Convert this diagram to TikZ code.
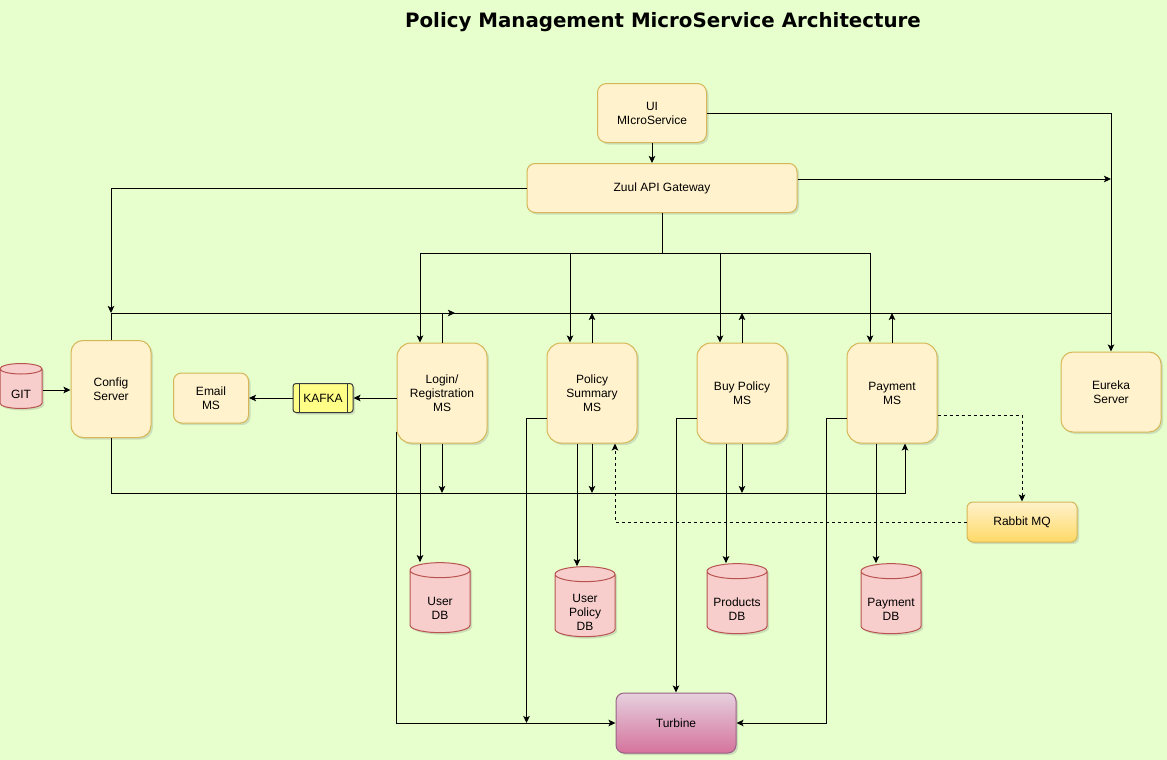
\documentclass[tikz,border=0pt]{standalone}
\usepackage{fontspec}
\setmainfont{Liberation Sans}
\newfontfamily\titlefont{DejaVu Sans}
\usetikzlibrary{shapes.geometric,shadows,arrows.meta}
\definecolor{bggreen}{HTML}{E6FFCC}
\definecolor{boxfill}{HTML}{FFF2CC}
\definecolor{boxline}{HTML}{D6B656}
\definecolor{dbfill}{HTML}{F8CECC}
\definecolor{dbline}{HTML}{B85450}
\definecolor{kafkafill}{HTML}{FFFF88}
\definecolor{kafkaline}{HTML}{36393D}
\definecolor{turbtop}{HTML}{E6D0DE}
\definecolor{turbbot}{HTML}{D5739D}
\definecolor{turbline}{HTML}{996185}
\definecolor{rabbot}{HTML}{FFD966}
\tikzset{box/.style={draw=boxline, fill=boxfill, line width=1pt, align=center,
    font=\fontsize{12}{14}\selectfont, inner sep=2pt,
    drop shadow={opacity=0.25, shadow xshift=2pt, shadow yshift=-2pt}}}
\tikzset{msbox/.style={box, rounded corners=14pt, minimum width=90pt, minimum height=100pt}}
\tikzset{dbase/.style={cylinder, shape border rotate=90, aspect=0.25, draw=dbline, fill=dbfill,
    line width=1pt, inner sep=2pt, text width=56pt, minimum width=60pt, minimum height=70pt,
    drop shadow={opacity=0.25, shadow xshift=2pt, shadow yshift=-2pt}}}
\tikzset{dbtext/.style={align=center, font=\fontsize{12}{14}\selectfont, yshift=-5pt}}
\tikzset{line/.style={line width=1pt}}
\tikzset{arr/.style={line width=1pt, -{Stealth[length=7pt, width=6.5pt, inset=1.5pt]}}}
\tikzset{dashline/.style={dash pattern=on 3pt off 3pt}}

\begin{document}
\begin{tikzpicture}[x=1pt, y=-1pt]
    \useasboundingbox (0,0) rectangle (1167,760);
    \fill[bggreen] (0,0) rectangle (1167,760);
    \node (title) at (663,22) {\titlefont\bfseries\fontsize{19.8}{22}\selectfont Policy Management MicroService Architecture};

    % gateway and registry
    \node[box, rounded corners=9pt, minimum width=109pt, minimum height=59pt] (ui) at (652,113) {UI\\MIcroService};
    \node[box, rounded corners=8pt, minimum width=270pt, minimum height=49pt] (zuul) at (662,188) {Zuul API Gateway};
    \node[box, rounded corners=12pt, minimum width=100pt, minimum height=80pt] (eureka) at (1111,392) {Eureka\\Server};
    \node[box, rounded corners=12pt, minimum width=80pt, minimum height=97pt] (config) at (111,389) {Config\\Server};
    \node[dbase, text width=38pt, minimum width=42pt, minimum height=45pt, label={[dbtext, yshift=1pt]center:GIT}] (git) at (21,390) {};
    \node[box, rounded corners=8pt, minimum width=75pt, minimum height=50pt] (email) at (211,398) {Email\\MS};
    \node[box, draw=kafkaline, fill=kafkafill, rounded corners=3pt, minimum width=60pt, minimum height=29pt,
        path picture={\draw[kafkaline, line width=1pt] ([xshift=6pt]path picture bounding box.north west) -- ([xshift=6pt]path picture bounding box.south west)
            ([xshift=-6pt]path picture bounding box.north east) -- ([xshift=-6pt]path picture bounding box.south east);}] (kafka) at (323,398) {KAFKA};

    % micro services
    \node[msbox] (login) at (442,393) {Login/\\Registration\\MS};
    \node[msbox] (policy) at (592,393) {Policy\\Summary\\MS};
    \node[msbox] (buy) at (742,393) {Buy Policy\\MS};
    \node[msbox] (payment) at (892,393) {Payment\\MS};
    \node[box, top color=boxfill, bottom color=rabbot, rounded corners=6pt, minimum width=110pt, minimum height=40pt] (rabbit) at (1022,522) {Rabbit MQ};
    \node[box, draw=turbline, top color=turbtop, bottom color=turbbot, rounded corners=8pt, minimum width=120pt, minimum height=60pt] (turbine) at (676,723) {Turbine};

    % databases
    \node[dbase, label={[dbtext]center:User\\DB}] (userdb) at (440,603) {};
    \node[dbase, label={[dbtext]center:User\\Policy\\DB}] (updb) at (585,607) {};
    \node[dbase, label={[dbtext]center:Products\\DB}] (proddb) at (737,604) {};
    \node[dbase, label={[dbtext]center:Payment\\DB}] (paydb) at (891,604) {};

    \coordinate (fan) at (0,253);
    \coordinate (topbus) at (0,313);
    \coordinate (botbus) at (0,493);
    \coordinate (zout) at ([yshift=9pt]zuul.east);
    \coordinate (fanl) at ([xshift=-22pt]login.north);
    \coordinate (fanr) at ([xshift=-22pt]payment.north);
    \coordinate (payin) at ([xshift=13pt]payment.south);

    \draw[arr] (ui.south) -- (ui.south |- zuul.north);
    \draw[arr] (ui.east) -| (eureka.north);
    \draw[arr] (zout) -- (zout -| eureka.north);
    \draw[arr] (zuul.west) -| (config.north |- topbus);
    \draw[line] (config.north) |- (eureka.north |- topbus);
    \draw[arr] (login.north) -- (login.north |- topbus) -- ++(13,0);
    \foreach \ms in {policy,buy,payment}
        \draw[arr] (\ms.north) -- (\ms.north |- topbus);

    \draw[line] (zuul.south) -- (zuul.south |- fan);
    \draw[line] (fanl |- fan) -- (fanr |- fan);
    \foreach \ms in {login,policy,buy,payment}
        \draw[arr] ([xshift=-22pt]\ms.north) coordinate (msin) ++(0,-90) -- (msin);

    \foreach \ms in {login,policy,buy}
        \draw[arr] (\ms.south) -- (\ms.south |- botbus);
    \draw[arr] (config.south) |- (payin |- botbus) -- (payin);

    \foreach \ms/\db/\dx in {login/userdb/-22, policy/updb/-15, buy/proddb/-16, payment/paydb/-16}
        \draw[arr] ([xshift=\dx pt]\ms.south) coordinate (msout) -- (msout |- \db.north);

    \draw[arr] ([yshift=12pt]login.south west) |- (turbine.west);
    \draw[arr] ([yshift=-25pt]policy.west) -- ++(-20,0) coordinate (pbend) -- (pbend |- turbine.west);
    \draw[arr] ([yshift=-25pt]buy.west) -| (turbine.north);
    \draw[arr] ([yshift=-25pt]payment.west) -- ++(-20,0) |- (turbine.east);

    \draw[arr] (kafka.east -| login.west) -- (kafka.east);
    \draw[arr] (kafka.west) -- (kafka.west -| email.east);
    \draw[arr] (git.east) -- (git.east -| config.west);

    \draw[arr, dashline] ([yshift=-22pt]payment.east) -| (rabbit.north);
    \draw[arr, dashline] (rabbit.west) -| ([xshift=23pt]policy.south);
\end{tikzpicture}
\end{document}
